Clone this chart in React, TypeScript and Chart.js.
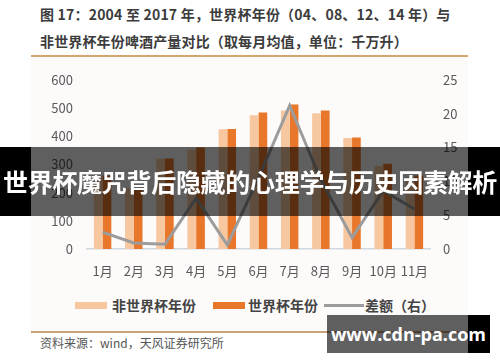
import React, { useEffect, useRef } from "react";
import { Chart, registerables } from "chart.js";

Chart.register(...registerables);

const months = ["1月", "2月", "3月", "4月", "5月", "6月", "7月", "8月", "9月", "10月", "11月"];
const nonWorldCup = [258, 215, 320, 352, 425, 474, 491, 481, 394, 294, 255];
const worldCup = [260.5, 216, 321, 359.5, 425.6, 484, 512, 491, 395.7, 302.6, 261];
const diffRight = [2.5, 0.9, 0.7, 7.5, 0.6, 10.5, 21.2, 10.2, 1.7, 8.6, 5.9];
const leftTicks = [0, 100, 200, 300, 400, 500, 600];
const rightTicks = [0, 5, 10, 15, 20, 25];

const titleLine1 = "图 17：2004 至 2017 年，世界杯年份（04、08、12、14 年）与";
const titleLine2 = "非世界杯年份啤酒产量对比（取每月均值，单位：千万升）";
const legendLabels = ["非世界杯年份", "世界杯年份", "差额（右）"];
const sourceText = "资料来源：wind，天风证券研究所";
const bannerText = "世界杯魔咒背后隐藏的心理学与历史因素解析";
const watermarkText = "www.cdn-pa.com";

const FONT = "'Noto Sans CJK SC', 'Noto Sans', sans-serif";
const LIGHT = "#f7c7a0";
const DARK = "#e8772b";
const GREY = "#9c9c9c";

export default function App() {
  const canvasRef = useRef<HTMLCanvasElement | null>(null);

  useEffect(() => {
    if (!canvasRef.current) return;
    const chart = new Chart(canvasRef.current, {
      type: "bar",
      data: {
        labels: months,
        datasets: [
          {
            type: "line",
            label: legendLabels[2],
            data: diffRight,
            yAxisID: "y1",
            borderColor: GREY,
            backgroundColor: GREY,
            borderWidth: 3,
            pointRadius: 0,
            tension: 0,
            order: 0,
          } as any,
          {
            label: legendLabels[0],
            data: nonWorldCup,
            yAxisID: "y",
            backgroundColor: LIGHT,
            categoryPercentage: 0.56,
            barPercentage: 1.0,
            order: 1,
          },
          {
            label: legendLabels[1],
            data: worldCup,
            yAxisID: "y",
            backgroundColor: DARK,
            categoryPercentage: 0.56,
            barPercentage: 1.0,
            order: 1,
          },
        ],
      },
      options: {
        animation: false,
        responsive: false,
        maintainAspectRatio: false,
        layout: { padding: { top: 19, left: 0, right: 0, bottom: 0 } },
        plugins: { legend: { display: false }, tooltip: { enabled: false } },
        scales: {
          x: {
            grid: { display: false, drawTicks: false },
            border: { display: true, color: "#cfd8e0", width: 1.5 },
            ticks: { color: "#595959", font: { family: FONT, size: 13 }, padding: 14, maxRotation: 0, autoSkip: false },
            afterFit: (s: any) => { s.height = 39; },
          },
          y: {
            position: "left",
            min: leftTicks[0],
            max: leftTicks[leftTicks.length - 1],
            grid: { display: false, drawTicks: false },
            border: { display: false },
            afterBuildTicks: (s: any) => { s.ticks = leftTicks.map((v) => ({ value: v })); },
            ticks: { color: "#595959", font: { family: FONT, size: 13 }, padding: 14 },
            afterFit: (s: any) => { s.width = 56; },
          },
          y1: {
            position: "right",
            min: rightTicks[0],
            max: rightTicks[rightTicks.length - 1],
            grid: { display: false, drawTicks: false },
            border: { display: false },
            afterBuildTicks: (s: any) => { s.ticks = rightTicks.map((v) => ({ value: v })); },
            ticks: { color: "#595959", font: { family: FONT, size: 13 }, padding: 13 },
            afterFit: (s: any) => { s.width = 38; },
          },
        },
      },
    });
    return () => chart.destroy();
  }, []);

  const abs = (l: number, t: number, w: number, h: number): React.CSSProperties => ({
    position: "absolute", left: l, top: t, width: w, height: h,
  });

  const legendText: React.CSSProperties = {
    position: "absolute", top: 296, height: 18, lineHeight: "18px", fontSize: 14,
    fontWeight: 700, color: "#444", fontFamily: FONT, whiteSpace: "nowrap",
  };

  return (
    <div style={{ position: "fixed", left: 0, top: 0, width: 500, height: 362, background: "#fff", overflow: "hidden", fontFamily: FONT }}>
      <div style={{ ...abs(31, 58, 437, 274), background: "#fdfafa" }} />
      <div style={{ position: "absolute", left: 40, top: 4, fontSize: 14, lineHeight: "20px", fontWeight: 700, color: "#3c3c3c", whiteSpace: "nowrap", letterSpacing: 0.2 }}>{titleLine1}</div>
      <div style={{ position: "absolute", left: 40, top: 31, fontSize: 14, lineHeight: "20px", fontWeight: 700, color: "#3c3c3c", whiteSpace: "nowrap", letterSpacing: 0.15 }}>{titleLine2}</div>
      <div style={{ ...abs(31, 55, 437, 1.5), background: "#d6a46c" }} />
      <canvas ref={canvasRef} width={437} height={230} style={{ position: "absolute", left: 31, top: 58, width: 437, height: 230 }} />
      <div style={{ ...abs(75, 302, 32, 7), background: LIGHT }} />
      <div style={{ ...legendText, left: 112 }}>{legendLabels[0]}</div>
      <div style={{ ...abs(213, 302, 32, 7), background: DARK }} />
      <div style={{ ...legendText, left: 248 }}>{legendLabels[1]}</div>
      <div style={{ ...abs(324, 304, 40, 2.5), background: GREY }} />
      <div style={{ ...legendText, left: 365 }}>{legendLabels[2]}</div>
      <div style={{ ...abs(31, 331, 437, 1.5), background: "#c9a27a" }} />
      <div style={{ position: "absolute", left: 40, top: 335, fontSize: 12, lineHeight: "16px", color: "#555", whiteSpace: "nowrap" }}>{sourceText}</div>
      <div style={{ ...abs(0, 147, 31, 69), background: "#000" }} />
      <div style={{ ...abs(31, 147, 437, 69), background: "rgba(0,0,0,0.62)" }} />
      <div style={{ ...abs(468, 147, 32, 69), background: "#000" }} />
      <div style={{ ...abs(0, 147, 500, 69), lineHeight: "69px", textAlign: "center", color: "#fff", fontSize: 25, fontWeight: 700, whiteSpace: "nowrap", letterSpacing: -0.3 }}>{bannerText}</div>
      <div style={{ ...abs(327, 315, 141, 38), background: "rgba(0,0,0,0.62)" }} />
      <div style={{ ...abs(468, 315, 22, 38), background: "#000" }} />
      <div style={{ position: "absolute", left: 327, top: 315, width: 163, height: 38, lineHeight: "38px", textAlign: "center", color: "#fff", fontSize: 18, fontWeight: 700, fontFamily: "'Open Sans', 'DejaVu Sans', sans-serif", whiteSpace: "nowrap" }}>{watermarkText}</div>
    </div>
  );
}
